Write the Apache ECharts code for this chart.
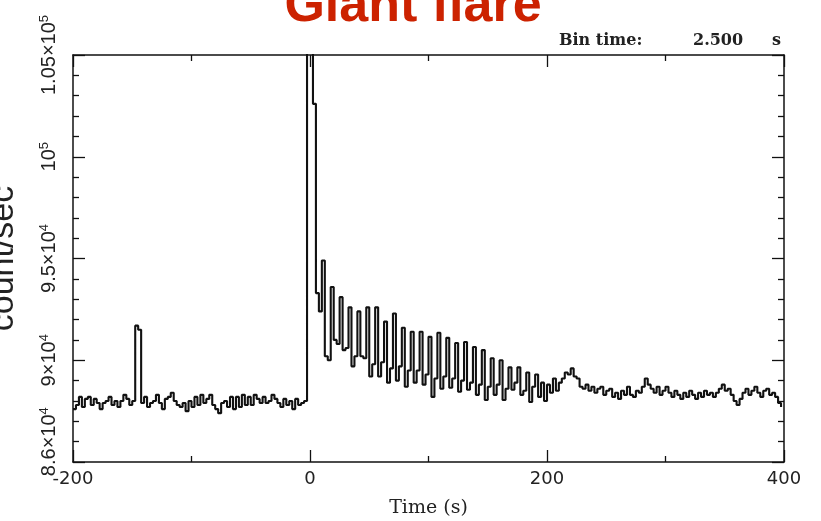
<!DOCTYPE html>
<html><head><meta charset="utf-8">
<script src="https://cdn.jsdelivr.net/npm/echarts@6/dist/echarts.min.js"></script>
<style>html,body{margin:0;padding:0;background:#fff}#c{width:821px;height:521px}</style>
</head><body><div id="c"></div>
<script>
// bin time of the light curve (s)
const binTime = 2.5;
// pre-flare segment, bins starting at -200 s
const preFlareStart = -200;
const preFlareRate = [
  87600, 87800, 88200, 87700, 88100, 88200, 87800, 88100, 87900, 87600,
  87900, 88000, 88200, 87800, 88000, 87700, 88000, 88300, 88100, 87800,
  88000, 91700, 91500, 87900, 88200, 87700, 87900, 88000, 88300, 87900,
  87600, 88100, 88200, 88400, 88000, 87800, 87700, 87900, 87500, 88000,
  87700, 88200, 87800, 88300, 87900, 88100, 88300, 87800, 87600, 87400,
  87900, 88000, 87700, 88200, 87600, 88200, 87700, 88300, 87800, 88200,
  87800, 88300, 88100, 87900, 88200, 87900, 88000, 88300, 88100, 87900,
  87700, 88100, 87800, 88000, 87600, 88100, 87800, 87900, 88000, 112000
];
// flare and pulsating tail, bins starting at 0 s
const flareStart = 0;
const flareRate = [
  110000, 102600, 93300, 92400, 94900, 90200, 90000, 93600, 91000, 90800,
  93100, 90500, 90600, 92600, 89700, 90200, 92400, 90200, 90100, 92600,
  89200, 89800, 92600, 89200, 89900, 91900, 88900, 89600, 92300, 89000,
  89700, 91600, 88700, 89500, 91400, 88900, 89500, 91400, 88800, 89300,
  91150, 88200, 89100, 91350, 88600, 89200, 91100, 88650, 89100, 90850,
  88450, 89000, 90900, 88550, 88900, 90650, 88300, 88800, 90500, 88050,
  88700, 90100, 88300, 88800, 90000, 88050, 88600, 89650, 88550, 88900,
  89650, 88300, 88500, 89400, 87950, 88700, 89300, 88200, 88900, 88000,
  88800, 88400, 89100, 88500, 88900, 89100, 89400, 89300, 89600, 89200,
  89100, 88700, 88600, 88800, 88500, 88700, 88400, 88600, 88700, 88300,
  88500, 88600, 88200, 88400, 88100, 88500, 88300, 88700, 88300, 88200,
  88500, 88400, 88700, 89100, 88800, 88600, 88400, 88700, 88300, 88500,
  88700, 88400, 88200, 88500, 88300, 88100, 88400, 88200, 88500, 88300,
  88100, 88400, 88200, 88500, 88300, 88400, 88200, 88400, 88600, 88800,
  88500, 88600, 88300, 88000, 87800, 88100, 88400, 88600, 88300, 88500,
  88700, 88400, 88200, 88500, 88600, 88300, 88400, 88200, 87900, 87700
];
// axes
const xMin = -200, xMax = 400, xStep = 200;
const yMin = 85000, yMax = 105000, yStep = 5000;
const yLabelValues = [86000, 90000, 95000, 100000, 105000];
const yLabelMantissa = ['8.6×10', '9×10', '9.5×10', '10', '1.05×10'];
const yLabelExponent = ['4', '4', '4', '5', '5'];
const xTitle = 'Time (s)';
const yTitle = 'count/sec';
const chartTitle = 'Giant flare';
const binLabel = ['Bin time:', '2.500', 's'];

const seriesData = preFlareRate.map((v, i) => [preFlareStart + i * binTime, v])
  .concat(flareRate.map((v, i) => [flareStart + i * binTime, v]));

const ink = '#111';
function axisStyle(split) {
  return {
    axisLine: { show: true, onZero: false, lineStyle: { color: ink, width: 1.5 } },
    axisTick: { show: true, inside: true, length: 12, lineStyle: { color: ink, width: 1.3 } },
    minorTick: { show: true, splitNumber: split, length: 6, lineStyle: { color: ink, width: 1.3 } },
    splitLine: { show: false },
    minorSplitLine: { show: false }
  };
}

const chart = echarts.init(document.getElementById('c'), null, { renderer: 'canvas' });
chart.setOption({
  animation: false,
  backgroundColor: '#fff',
  grid: { left: 73, right: 37, top: 55, bottom: 59, containLabel: false, outerBoundsMode: 'none' },
  xAxis: [
    Object.assign({
      type: 'value', min: xMin, max: xMax, interval: xStep, position: 'bottom',
      axisLabel: { fontFamily: 'DejaVu Sans', fontSize: 18, color: '#222', margin: 8 },
      name: xTitle, nameLocation: 'middle', nameGap: 37,
      nameTextStyle: { fontFamily: 'DejaVu Serif', fontSize: 19, color: '#222' }
    }, axisStyle(2)),
    Object.assign({
      type: 'value', min: xMin, max: xMax, interval: xStep, position: 'top',
      axisLabel: { show: false }
    }, axisStyle(2))
  ],
  yAxis: [
    Object.assign({
      type: 'value', min: yMin, max: yMax, interval: yStep, position: 'left',
      axisLabel: {
        customValues: yLabelValues, rotate: 90, margin: 12,
        formatter: function (v) {
          const i = yLabelValues.indexOf(v);
          if (i < 0) return '';
          return '{m|' + yLabelMantissa[i] + '}{e|' + yLabelExponent[i] + '}';
        },
        rich: {
          m: { fontFamily: 'Liberation Sans', fontSize: 20, lineHeight: 23, color: '#222' },
          e: { fontFamily: 'Liberation Sans', fontSize: 13, lineHeight: 13, verticalAlign: 'top', color: '#222' }
        }
      },
      name: yTitle, nameLocation: 'middle', nameGap: 52,
      nameTextStyle: { fontFamily: 'Liberation Sans', fontSize: 34, color: '#222' }
    }, axisStyle(5)),
    Object.assign({
      type: 'value', min: yMin, max: yMax, interval: yStep, position: 'right',
      axisLabel: { show: false }
    }, axisStyle(5))
  ],
  series: [{
    type: 'line', xAxisIndex: 0, yAxisIndex: 0, step: 'end', symbol: 'none', clip: true,
    data: seriesData,
    lineStyle: { color: ink, width: 2.1 }
  }],
  graphic: [
    { type: 'text', x: 413, y: 7, style: { text: chartTitle, fill: '#cc2200', font: 'bold 52px "Liberation Sans"', align: 'center', verticalAlign: 'middle', textAlign: 'center', textVerticalAlign: 'middle' } },
    { type: 'text', x: 559, y: 41, style: { text: binLabel[0], fill: '#222', font: 'bold 16px "DejaVu Serif"', align: 'left', verticalAlign: 'middle', textAlign: 'left', textVerticalAlign: 'middle' } },
    { type: 'text', x: 693, y: 41, style: { text: binLabel[1], fill: '#222', font: 'bold 16px "DejaVu Serif"', align: 'left', verticalAlign: 'middle', textAlign: 'left', textVerticalAlign: 'middle' } },
    { type: 'text', x: 772, y: 41, style: { text: binLabel[2], fill: '#222', font: 'bold 16px "DejaVu Serif"', align: 'left', verticalAlign: 'middle', textAlign: 'left', textVerticalAlign: 'middle' } }
  ]
});
</script>
</body></html>
